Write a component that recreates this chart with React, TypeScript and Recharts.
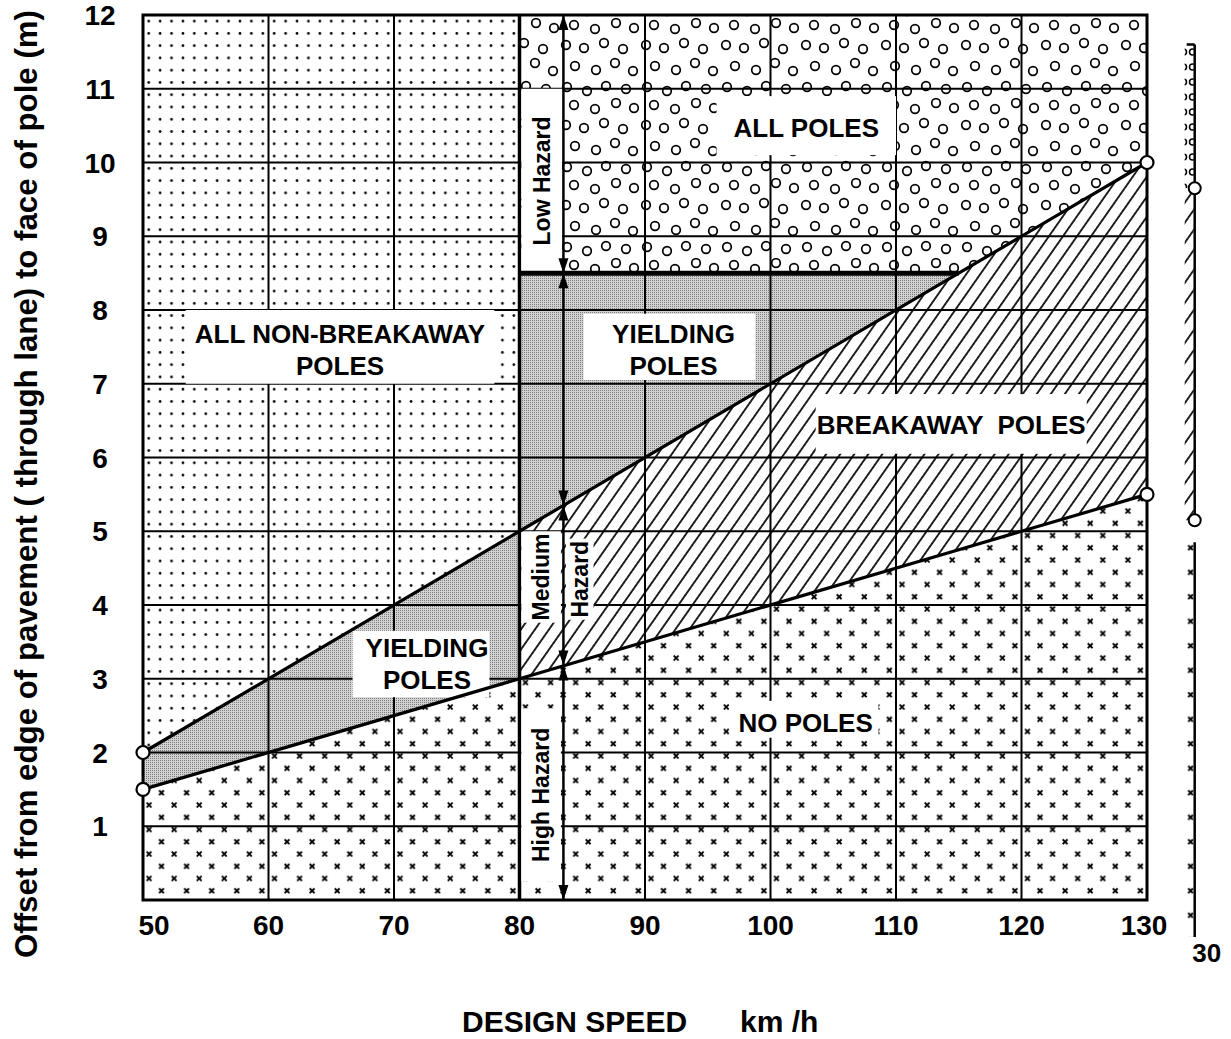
import React from 'react';
import {
  ComposedChart,
  Area,
  Line,
  XAxis,
  YAxis,
  ReferenceLine,
  ReferenceArea,
  ReferenceDot,
} from 'recharts';

// ---------- data ----------
const speedKmh = [50, 80, 115, 130];
const upperOffsetM = [2, 5, 8.5, 10];
const lowerOffsetM = [1.5, 3, 4.75, 5.5];
const yieldingCapM = 8.5;
const splitSpeedKmh = 80;
const maxOffsetM = 12;

const xTicks = [50, 60, 70, 80, 90, 100, 110, 120, 130];
const yTicks = [1, 2, 3, 4, 5, 6, 7, 8, 9, 10, 11, 12];
const xGridLines = [60, 70, 90, 100, 110, 120];
const yGridLines = [1, 2, 3, 4, 5, 6, 7, 8, 9, 10, 11];

const hazardSpeedKmh = 83.5;
const hazardArrowOffsets = [12, 8.5, 8.5, 5.35, 5.35, 3.18, 3.18, 0];
const hazardArrowDirs = ['up', 'down', 'up', 'down', 'up', 'down', 'up', 'down'];

const stripSpeedKmh = 133.8;
const stripSegmentFrom = [11.6, 9.65, 4.85];
const stripSegmentTo = [9.65, 5.15, -0.5];
const stripMarkerOffsets = [9.65, 5.15];
const stripCaption = '30';

const rows = speedKmh.map((speed, i) => {
  const up = upperOffsetM[i];
  const lo = lowerOffsetM[i];
  const left = speed <= splitSpeedKmh;
  const right = speed >= splitSpeedKmh;
  const underCap = right && up <= yieldingCapM;
  return {
    speed,
    upper: up,
    lower: lo,
    noPoles: [0, lo],
    yieldingLow: left ? [lo, up] : null,
    nonBreakaway: left ? [up, maxOffsetM] : null,
    breakaway: right ? [lo, up] : null,
    yieldingHigh: underCap ? [up, yieldingCapM] : null,
    allPoles: right ? [Math.max(up, yieldingCapM), maxOffsetM] : null,
    cap: underCap ? yieldingCapM : null,
  };
});

// ---------- rendering helpers ----------
const FONT = "'Liberation Sans', Arial, Helvetica, sans-serif";

const XTick = (p: any) => {
  const v = p.payload.value;
  const dx = v === 50 ? 11 : v === 130 ? -3 : 0;
  return (
    <text x={p.x + dx} y={935} textAnchor="middle" fontFamily={FONT} fontWeight="bold" fontSize={28} fill="#000">
      {v}
    </text>
  );
};

const YTick = (p: any) => (
  <text x={100} y={p.y + 10} textAnchor="middle" fontFamily={FONT} fontWeight="bold" fontSize={28} fill="#000">
    {p.payload.value}
  </text>
);

const LabelBox = (props: any) => {
  const { x, y, width, height, lines, size = 26, base = 10, gap = 32, vertical = false, shiftX = 0 } = props;
  if (x == null || y == null) return null;
  const cx = x + width / 2 + shiftX;
  const cy = y + height / 2;
  return (
    <g>
      <rect x={x} y={y} width={width} height={height} fill="#fff" />
      {vertical ? (
        <text
          transform={`translate(${cx + 8},${cy}) rotate(-90)`}
          textAnchor="middle"
          fontFamily={FONT}
          fontWeight="bold"
          fontSize={size}
          fill="#000"
        >
          {lines[0]}
        </text>
      ) : (
        lines.map((t: string, i: number) => (
          <text
            key={i}
            x={cx}
            y={cy + base + (i - (lines.length - 1) / 2) * gap}
            textAnchor="middle"
            fontFamily={FONT}
            fontWeight="bold"
            fontSize={size}
            fill="#000"
            style={{ whiteSpace: 'pre' }}
          >
            {t}
          </text>
        ))
      )}
    </g>
  );
};

const Arrowhead = (props: any) => {
  const { cx, cy, dir } = props;
  if (cx == null || cy == null) return <g />;
  const h = 15;
  const w = 5;
  const s = dir === 'up' ? 1 : -1;
  return <path d={`M${cx},${cy}L${cx - w},${cy + s * h}L${cx + w},${cy + s * h}Z`} fill="#000" />;
};

const StripSegment = (props: any) => {
  const { x1, y1, y2, pattern, cap, caption } = props;
  if (x1 == null) return <g />;
  const top = Math.min(y1, y2);
  const bottom = Math.max(y1, y2);
  return (
    <g>
      <rect x={x1 - 10} y={top} width={9} height={bottom - top} fill={`url(#${pattern})`} />
      <line x1={x1} y1={top} x2={x1} y2={bottom} stroke="#000" strokeWidth={2.5} />
      {cap && <line x1={x1 - 8} y1={top} x2={x1} y2={top} stroke="#000" strokeWidth={2.5} />}
      {caption && (
        <text x={x1 + 12} y={bottom + 25} textAnchor="middle" fontFamily={FONT} fontWeight="bold" fontSize={26} fill="#000">
          {caption}
        </text>
      )}
    </g>
  );
};

const endDot = (p: any) => {
  const last = p.index === 0 || p.index === rows.length - 1;
  if (!last || p.cx == null || p.cy == null) return <g key={`d${p.index}`} />;
  return <circle key={`d${p.index}`} cx={p.cx} cy={p.cy} r={6.5} fill="#fff" stroke="#000" strokeWidth={2.2} />;
};

const circlePositions = [
  [7, 7], [27, 11], [46, 6], [66, 9], [14, 25], [35, 29], [56, 23], [74, 28],
  [6, 45], [24, 48], [44, 43], [63, 49], [15, 66], [36, 70], [55, 63], [73, 71],
];

const stripPatterns = ['stripCircles', 'hatch', 'xmarks'];

export default function App() {
  return (
    <div style={{ position: 'absolute', left: 0, top: 0, width: 1231, height: 1039, background: '#fff' }}>
      <ComposedChart width={1231} height={1039} data={rows} margin={{ top: 15, right: 84, bottom: 0, left: 0 }}>
        <defs>
          <pattern id="dots" patternUnits="userSpaceOnUse" x={143} y={15} width={11.41} height={12.27}>
            <rect width={11.41} height={12.27} fill="#fff" />
            <circle cx={5.7} cy={6.1} r={1.35} fill="#000" />
          </pattern>
          <pattern id="xmarks" patternUnits="userSpaceOnUse" x={143} y={15} width={25.1} height={24.5}>
            <rect width={25.1} height={24.5} fill="#fff" />
            <path
              d="M3.6,3.6L8.4,8.4M8.4,3.6L3.6,8.4M16.1,15.9L20.9,20.7M20.9,15.9L16.1,20.7"
              stroke="#000"
              strokeWidth={1.9}
            />
          </pattern>
          <pattern id="hatch" patternUnits="userSpaceOnUse" width={11.5} height={11.5} patternTransform="rotate(35)">
            <rect width={11.5} height={11.5} fill="#fff" />
            <line x1={5.75} y1={-1} x2={5.75} y2={12.5} stroke="#000" strokeWidth={1.7} />
          </pattern>
          <pattern id="circles" patternUnits="userSpaceOnUse" width={80} height={80}>
            <rect width={80} height={80} fill="#fff" />
            {circlePositions.map(([cx, cy], i) => (
              <circle key={i} cx={cx} cy={cy} r={4.3} fill="none" stroke="#000" strokeWidth={1.7} />
            ))}
          </pattern>
          <pattern id="stipple" patternUnits="userSpaceOnUse" width={2} height={2}>
            <rect width={2} height={2} fill="#d2d2d2" />
            <rect width={1} height={1} fill="#7c7c7c" />
          </pattern>
          <pattern id="stripCircles" patternUnits="userSpaceOnUse" width={9} height={15}>
            <rect width={9} height={15} fill="#fff" />
            <circle cx={4.5} cy={7} r={3} fill="none" stroke="#000" strokeWidth={1.5} />
          </pattern>
        </defs>

        <XAxis
          dataKey="speed"
          type="number"
          domain={[50, 130]}
          ticks={xTicks}
          interval={0}
          height={139}
          axisLine={false}
          tickLine={false}
          tick={XTick}
        />
        <YAxis
          type="number"
          domain={[0, 12]}
          ticks={yTicks}
          interval={0}
          width={143}
          axisLine={false}
          tickLine={false}
          tick={YTick}
        />

        <Area dataKey="noPoles" type="linear" fill="url(#xmarks)" fillOpacity={1} stroke="none" isAnimationActive={false} dot={false} activeDot={false} zIndex={100} />
        <Area dataKey="yieldingLow" type="linear" fill="url(#stipple)" fillOpacity={1} stroke="none" isAnimationActive={false} dot={false} activeDot={false} zIndex={100} />
        <Area dataKey="nonBreakaway" type="linear" fill="url(#dots)" fillOpacity={1} stroke="none" isAnimationActive={false} dot={false} activeDot={false} zIndex={100} />
        <Area dataKey="breakaway" type="linear" fill="url(#hatch)" fillOpacity={1} stroke="none" isAnimationActive={false} dot={false} activeDot={false} zIndex={100} />
        <Area dataKey="yieldingHigh" type="linear" fill="url(#stipple)" fillOpacity={1} stroke="none" isAnimationActive={false} dot={false} activeDot={false} zIndex={100} />
        <Area dataKey="allPoles" type="linear" fill="url(#circles)" fillOpacity={1} stroke="none" isAnimationActive={false} dot={false} activeDot={false} zIndex={100} />

        {xGridLines.map((v) => (
          <ReferenceLine key={`gx${v}`} x={v} stroke="#000" strokeWidth={2} zIndex={200} />
        ))}
        {yGridLines.map((v) => (
          <ReferenceLine key={`gy${v}`} y={v} stroke="#000" strokeWidth={2} zIndex={200} />
        ))}
        <ReferenceLine x={splitSpeedKmh} stroke="#000" strokeWidth={3.5} zIndex={200} />

        <ReferenceArea x1={53.4} x2={78} y1={7} y2={8} zIndex={300}
          shape={(p: any) => <LabelBox {...p} lines={['ALL NON-BREAKAWAY', 'POLES']} base={12} />} />
        <ReferenceArea x1={85.1} x2={98.8} y1={7.05} y2={7.95} zIndex={300}
          shape={(p: any) => <LabelBox {...p} lines={['YIELDING', 'POLES']} base={12} shiftX={4} />} />
        <ReferenceArea x1={66.7} x2={77.6} y1={2.75} y2={3.65} zIndex={300}
          shape={(p: any) => <LabelBox {...p} lines={['YIELDING', 'POLES']} base={9} shiftX={6} />} />
        <ReferenceArea x1={95.7} x2={110} y1={10.1} y2={10.9} zIndex={300}
          shape={(p: any) => <LabelBox {...p} lines={['ALL POLES']} base={11} />} />
        <ReferenceArea x1={103.6} x2={125.2} y1={6.05} y2={6.86} zIndex={300}
          shape={(p: any) => <LabelBox {...p} lines={['BREAKAWAY  POLES']} base={10} />} />
        <ReferenceArea x1={97} x2={108.6} y1={2.2} y2={2.7} zIndex={300}
          shape={(p: any) => <LabelBox {...p} lines={['NO POLES']} base={13} />} />

        <ReferenceArea x1={80.15} x2={83.4} y1={8.5} y2={11} zIndex={300}
          shape={(p: any) => <LabelBox {...p} lines={['Low Hazard']} vertical size={23} />} />
        <ReferenceArea x1={80.15} x2={83.3} y1={3.76} y2={5.0} zIndex={300}
          shape={(p: any) => <LabelBox {...p} lines={['Medium']} vertical size={23} />} />
        <ReferenceArea x1={83.7} x2={85.9} y1={3.8} y2={4.9} zIndex={300}
          shape={(p: any) => <LabelBox {...p} lines={['Hazard']} vertical size={23} />} />
        <ReferenceArea x1={80.15} x2={83.3} y1={0.25} y2={2.6} zIndex={300}
          shape={(p: any) => <LabelBox {...p} lines={['High Hazard']} vertical size={23} />} />

        <Line dataKey="upper" type="linear" stroke="#000" strokeWidth={3.2} dot={endDot} activeDot={false} isAnimationActive={false} zIndex={400} />
        <Line dataKey="lower" type="linear" stroke="#000" strokeWidth={3.2} dot={endDot} activeDot={false} isAnimationActive={false} zIndex={400} />
        <Line dataKey="cap" type="linear" stroke="#000" strokeWidth={5} dot={false} activeDot={false} isAnimationActive={false} zIndex={400} />

        <ReferenceArea x1={50} x2={130} y1={0} y2={12} fill="none" stroke="#000" strokeWidth={3} zIndex={450} />

        <ReferenceLine x={hazardSpeedKmh} stroke="#000" strokeWidth={2.5} zIndex={500} />
        {hazardArrowOffsets.map((y, i) => (
          <ReferenceDot
            key={`ha${i}`}
            x={hazardSpeedKmh}
            y={y}
            ifOverflow="visible"
            zIndex={500}
            shape={(p: any) => <Arrowhead {...p} dir={hazardArrowDirs[i]} />}
          />
        ))}

        {stripSegmentFrom.map((from, i) => (
          <ReferenceLine
            key={`ss${i}`}
            segment={[{ x: stripSpeedKmh, y: from }, { x: stripSpeedKmh, y: stripSegmentTo[i] }]}
            ifOverflow="visible"
            zIndex={500}
            shape={(p: any) => (
              <StripSegment
                {...p}
                pattern={stripPatterns[i]}
                cap={i === 0}
                caption={i === stripSegmentFrom.length - 1 ? stripCaption : undefined}
              />
            )}
          />
        ))}
        {stripMarkerOffsets.map((y, i) => (
          <ReferenceDot key={`sm${i}`} x={stripSpeedKmh} y={y} r={6} fill="#fff" stroke="#000" strokeWidth={2} ifOverflow="visible" zIndex={500} />
        ))}

        <text
          transform="translate(37,484) rotate(-90)"
          textAnchor="middle"
          fontFamily={FONT}
          fontWeight="bold"
          fontSize={31}
          textLength={948}
          lengthAdjust="spacingAndGlyphs"
          fill="#000"
        >
          Offset from edge of pavement ( through lane) to face of pole (m)
        </text>
        <text x={462} y={1032} fontFamily={FONT} fontWeight="bold" fontSize={30} fill="#000">
          DESIGN SPEED
        </text>
        <text x={740} y={1032} fontFamily={FONT} fontWeight="bold" fontSize={30} fill="#000">
          km /h
        </text>
      </ComposedChart>
    </div>
  );
}
